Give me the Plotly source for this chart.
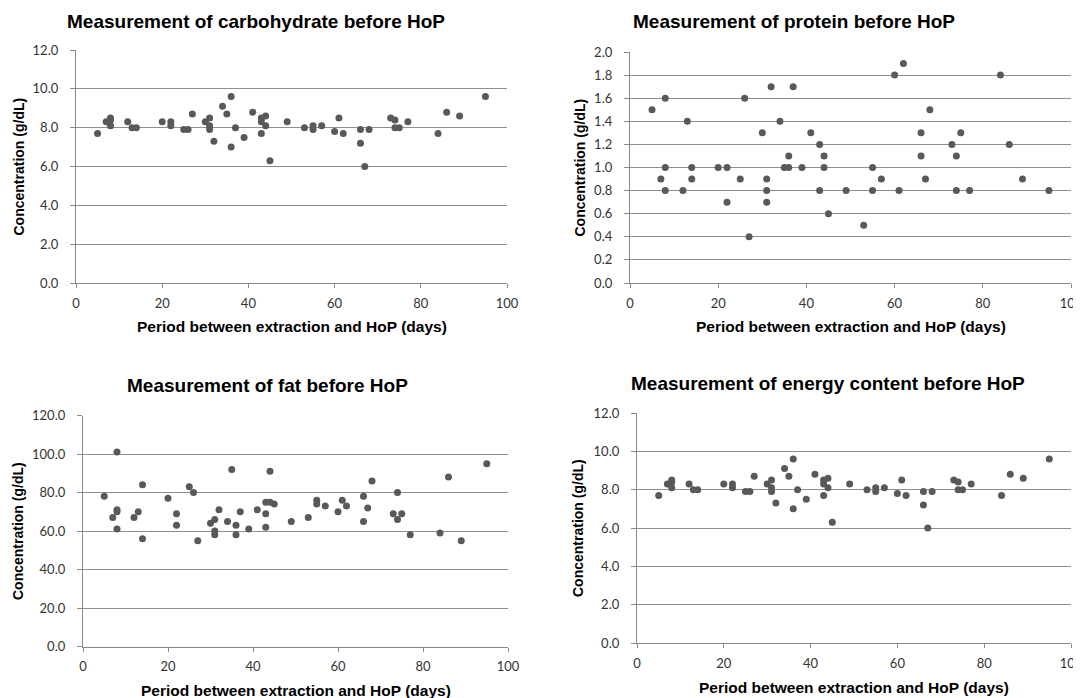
import plotly.graph_objects as go

# ---------------- data ----------------
carb_days = [5, 7, 8, 8, 8, 12, 13, 14, 20, 22, 22, 25, 26, 27, 30, 31, 31, 31, 32, 34, 35, 36, 36, 37, 39, 41,
             43, 43, 43, 44, 44, 45, 49, 53, 55, 55, 57, 60, 61, 62, 66, 66, 67, 68, 73, 74, 74, 75, 77, 84, 86, 89, 95]
carb_values = [7.7, 8.3, 8.5, 8.4, 8.1, 8.3, 8.0, 8.0, 8.3, 8.3, 8.1, 7.9, 7.9, 8.7, 8.3, 8.5, 8.1, 7.9, 7.3, 9.1,
               8.7, 9.6, 7.0, 8.0, 7.5, 8.8, 8.5, 8.3, 7.7, 8.6, 8.1, 6.3, 8.3, 8.0, 8.1, 7.9, 8.1, 7.8, 8.5, 7.7,
               7.9, 7.2, 6.0, 7.9, 8.5, 8.4, 8.0, 8.0, 8.3, 7.7, 8.8, 8.6, 9.6]

protein_days = [5, 7, 8, 8, 8, 12, 13, 14, 14, 20, 22, 22, 25, 26, 27, 30, 31, 31, 31, 32, 34, 35, 36, 36, 37, 39,
                41, 43, 43, 44, 44, 45, 49, 53, 55, 55, 57, 60, 61, 62, 66, 66, 67, 68, 73, 74, 74, 75, 77, 84, 86,
                89, 95]
protein_values = [1.5, 0.9, 1.6, 1.0, 0.8, 0.8, 1.4, 1.0, 0.9, 1.0, 1.0, 0.7, 0.9, 1.6, 0.4, 1.3, 0.9, 0.8, 0.7,
                  1.7, 1.4, 1.0, 1.1, 1.0, 1.7, 1.0, 1.3, 1.2, 0.8, 1.1, 1.0, 0.6, 0.8, 0.5, 1.0, 0.8, 0.9, 1.8,
                  0.8, 1.9, 1.3, 1.1, 0.9, 1.5, 1.2, 1.1, 0.8, 1.3, 0.8, 1.8, 1.2, 0.9, 0.8]

fat_days = [5, 7, 8, 8, 8, 8, 12, 13, 14, 14, 20, 22, 22, 25, 26, 27, 30, 31, 31, 31, 32, 34, 35, 36, 36, 37, 39,
            41, 43, 43, 43, 44, 44, 45, 49, 53, 55, 55, 57, 60, 61, 62, 66, 66, 67, 68, 73, 74, 74, 75, 77, 84, 86,
            89, 95]
fat_values = [78, 67, 101, 71, 70, 61, 67, 70, 84, 56, 77, 69, 63, 83, 80, 55, 64, 66, 60, 58, 71, 65, 92, 63, 58,
              70, 61, 71, 75, 69, 62, 75, 91, 74, 65, 67, 76, 74, 73, 70, 76, 73, 78, 65, 72, 86, 69, 80, 66, 69,
              58, 59, 88, 55, 95]

energy_days = [5, 7, 8, 8, 8, 12, 13, 14, 20, 22, 22, 25, 26, 27, 30, 31, 31, 31, 32, 34, 35, 36, 36, 37, 39, 41,
               43, 43, 43, 44, 44, 45, 49, 53, 55, 55, 57, 60, 61, 62, 66, 66, 67, 68, 73, 74, 74, 75, 77, 84, 86, 89, 95]
energy_values = [7.7, 8.3, 8.5, 8.4, 8.1, 8.3, 8.0, 8.0, 8.3, 8.3, 8.1, 7.9, 7.9, 8.7, 8.3, 8.5, 8.1, 7.9, 7.3, 9.1,
                 8.7, 9.6, 7.0, 8.0, 7.5, 8.8, 8.5, 8.3, 7.7, 8.6, 8.1, 6.3, 8.3, 8.0, 8.1, 7.9, 8.1, 7.8, 8.5, 7.7,
                 7.9, 7.2, 6.0, 7.9, 8.5, 8.4, 8.0, 8.0, 8.3, 7.7, 8.8, 8.6, 9.6]

titles = ["Measurement of carbohydrate before HoP", "Measurement of protein before HoP",
          "Measurement of fat before HoP", "Measurement of energy content before HoP"]
x_title = "Period between extraction and HoP (days)"
y_title = "Concentration (g/dL)"
x_ticks = [0, 20, 40, 60, 80, 100]

# ---------------- layout helpers ----------------
OFF = 8                 # page body margin
W, H = 1081 - OFF, 698 - OFF

def px_x(p):
    return (p - OFF) / W

def px_y(p):
    return 1 - (p - OFF) / H

panels = [
    dict(days=carb_days, vals=carb_values, box=(76, 507, 50, 283), yr=12, dt=2, tx=256, ty=21, ylx=18),
    dict(days=protein_days, vals=protein_values, box=(630, 1071, 52, 283), yr=2, dt=0.2, tx=794, ty=21, ylx=580),
    dict(days=fat_days, vals=fat_values, box=(83, 508, 415.5, 646.5), yr=120, dt=20, tx=267, ty=386, ylx=18),
    dict(days=energy_days, vals=energy_values, box=(637, 1071, 413, 643), yr=12, dt=2, tx=828, ty=383, ylx=578),
]

fig = go.Figure()
annotations = []
layout_axes = {}
GRID = "#8f8f8f"
AX = "#8a8a8a"
TICKFONT = dict(family="Lato, Carlito, Liberation Sans, sans-serif", size=13, color="#333333")
BOLD = "Liberation Sans, Arial, sans-serif"

for i, p in enumerate(panels):
    n = "" if i == 0 else str(i + 1)
    l, r, t, b = p["box"]
    fig.add_trace(go.Scatter(
        x=p["days"], y=p["vals"], mode="markers",
        marker=dict(size=7, color="#595959"),
        xaxis="x" + n, yaxis="y" + n, showlegend=False,
        hoverinfo="x+y",
    ))
    layout_axes["xaxis" + n] = dict(
        domain=[px_x(l), px_x(r)], anchor="y" + n, range=[0, 100],
        tickvals=x_ticks, ticktext=[str(v) for v in x_ticks],
        showgrid=False, zeroline=False, showline=True, linecolor=AX, linewidth=1.3,
        ticks="outside", ticklen=4, tickcolor=AX, tickfont=TICKFONT, fixedrange=True,
        automargin=False, ticklabelstandoff=4, ticklabeloverflow="allow",
    )
    yt = [round(k * p["dt"], 2) for k in range(int(round(p["yr"] / p["dt"])) + 1)]
    layout_axes["yaxis" + n] = dict(
        domain=[px_y(b), px_y(t)], anchor="x" + n, range=[0, p["yr"]],
        tickvals=yt, ticktext=[f"{v:.1f}" for v in yt],
        showgrid=True, gridcolor=GRID, gridwidth=1.2, zeroline=False,
        showline=True, linecolor=AX, linewidth=1.3,
        ticks="outside", ticklen=5, tickcolor=AX, tickfont=TICKFONT, fixedrange=True,
        automargin=False, ticklabelstandoff=9,
    )
    annotations.append(dict(
        text=f"<b>{titles[i]}</b>", x=px_x(p["tx"]), y=px_y(p["ty"]), xref="paper", yref="paper",
        xanchor="center", yanchor="middle", showarrow=False,
        font=dict(family=BOLD, size=19, color="#000000"),
    ))
    annotations.append(dict(
        text=f"<b>{x_title}</b>", x=px_x((l + r) / 2), y=px_y(b + 44), xref="paper", yref="paper",
        xanchor="center", yanchor="middle", showarrow=False,
        font=dict(family=BOLD, size=15.5, color="#000000"),
    ))
    annotations.append(dict(
        text=f"<b>{y_title}</b>", x=px_x(p["ylx"]), y=px_y((t + b) / 2), xref="paper", yref="paper",
        xanchor="center", yanchor="middle", showarrow=False, textangle=-90,
        font=dict(family=BOLD, size=14, color="#000000"),
    ))

fig.update_layout(
    width=W, height=H,
    margin=dict(l=0, r=0, t=0, b=0, pad=0, autoexpand=False),
    paper_bgcolor="white", plot_bgcolor="white",
    annotations=annotations,
    **layout_axes,
)

fig.write_html("out.html")
